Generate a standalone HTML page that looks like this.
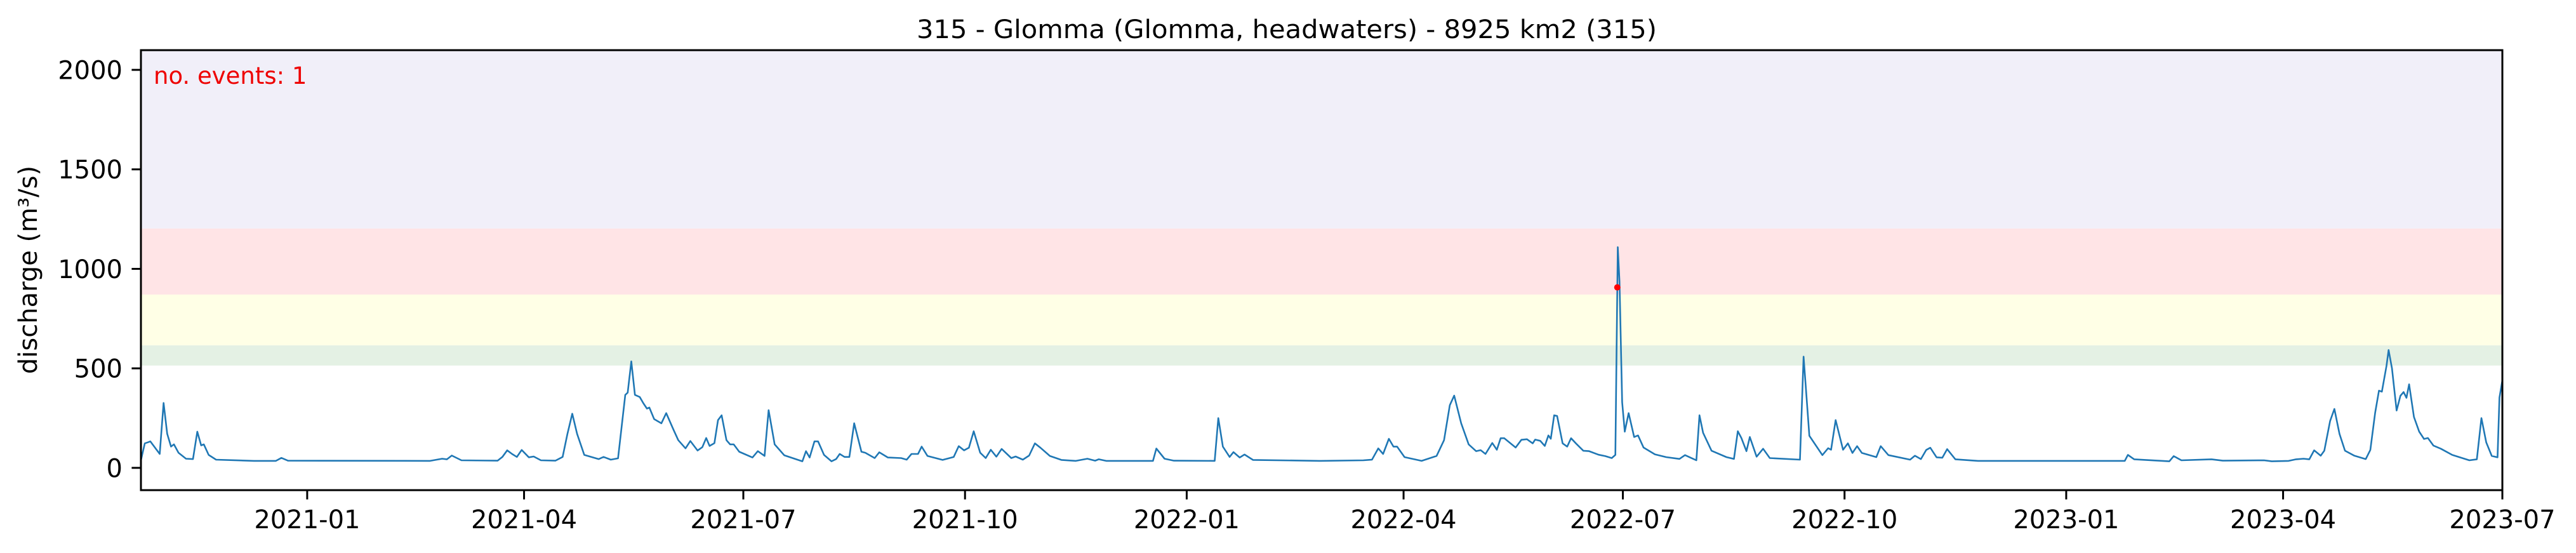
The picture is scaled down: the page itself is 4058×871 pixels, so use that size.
<!DOCTYPE html>
<html><head><meta charset="utf-8"><style>
html,body{margin:0;padding:0;background:#fff;}
svg{display:block;font-family:"DejaVu Sans","Liberation Sans",sans-serif;}
</style></head><body>
<svg id="chart" width="4058" height="871" viewBox="0 0 4058 871" xmlns="http://www.w3.org/2000/svg">
<g id="bands"></g>
<g id="series"></g>
<rect x="222" y="79" width="3720" height="693" fill="none" stroke="#000" stroke-width="3"/>
<g id="yticks"></g>
<g id="xticks"></g>
<text x="2027" y="60" font-size="40" text-anchor="middle" textLength="1166" lengthAdjust="spacingAndGlyphs">315 - Glomma (Glomma, headwaters) - 8925 km2 (315)</text>
<text transform="translate(58,425) rotate(-90)" font-size="40" text-anchor="middle">discharge (m³/s)</text>
<text x="242" y="132" font-size="37" fill="#ee0000">no. events: 1</text>
</svg>
<script>
const startDate = "2020-10-24";
const endDate = "2023-07-01";
const yTicks = [0, 500, 1000, 1500, 2000];
const xTickLabels = ["2021-01","2021-04","2021-07","2021-10","2022-01","2022-04","2022-07","2022-10","2023-01","2023-04","2023-07"];
const bandLows = [514, 616, 871, 1203];
const bandHighs = [616, 871, 1203, 2100];
const bandColors = ["#e4f1e4", "#ffffe6", "#ffe4e6", "#f1eff9"];
const flowDays = [0,1.6,2.8,3.9,7.8,9.4,10.9,12.5,13.7,15.6,18.7,21.6,23.4,25,26.1,28.1,31.2,46.9,56,58.3,61,120,125,127,129,133,148,150,152,154,156,158,161,163,166,172,175,177,179,181,184,190,192,195,198,201,202,203.5,205,207,208.5,210,211,213,216,218,221,223,226,228,231,233,234.6,236,238,239.5,241,243,244.5,
246,248.3,253.8,256,258.8,260.5,263,267,274.5,276,277.5,279.5,281,283.5,286.6,288.5,290,292,294,296,299,300.6,304.5,306.4,310,315.5,317.8,319.8,322.5,324,326.4,332.7,337.3,339.4,341.6,343.6,345.6,348.3,350.6,352.7,355,357.2,361.2,363,366,368.6,371,373.3,377.2,382,388,392.8,396,397.5,400.6,420,421.4,424.8,428.7,445.6,447.1,449,451.8,453.4,456,458,461.5,489.3,
507.3,510.9,513.5,515.5,517.9,519.8,521.3,524.4,531.5,537.7,540.8,543.2,545,547.9,551,554.1,556,558,560.8,562.7,564.3,565.8,570.5,572.9,575.2,577.6,578.6,580.7,582.6,584.1,585.1,586.5,587.7,590,591.9,593.5,595.5,598.6,601,604.9,607.7,610.4,611.9,612.9,613.6,614.7,615.8,617.4,619.7,621.3,623.6,628.3,633,638.5,640.8,645.5,646.8,648.3,651.8,658,661.1,662.7,664.2,666.3,667.7,670.5,673.2,676,688.5,690,692.4,697.8,700.2,701.4,703.3,706.4,708.4,710.3,712.2,714.2,720.2,722,725.2,734.2,
736.2,738.7,740.9,742.6,745.2,747.6,749.6,753,762.4,807,823.3,824.6,827.2,841.8,843.6,846.8,859.3,864,881.1,884.3,891.3,894.4,897.5,899.9,901.9,904.6,906.1,908.5,910.3,912.4,914.7,918.6,923.3,925.2,927.2,928.8,930,931.9,932.8,934.2,936.1,937.7,939,940.2,941.3,943.3,945.5,947.5,949.1,951.4,954.5,959.2,966.3,969.4,971.3,973.3,975.6,978,978.8,980];
const flowValues = [38,123,128,133,70,326,171,107,118,76,46,44,182,113,118,65,41,35,35,50,36,35,46,43,62,38,36,55,88,70,55,90,53,57,38,36,55,171,272,171,65,44,55,41,48,367,378,535,367,356,325,298,303,245,224,275,192,139,98,135,87,104,150,110,124,240,264,139,118,
118,81,52,84,60,290,118,63,33,84,52,133,133,65,33,44,70,55,55,224,81,76,49,78,52,49,41,70,70,107,60,40,55,109,88,101,184,76,49,91,56,95,49,57,41,62,123,101,60,40,35,46,36,43,35,35,97,46,36,35,250,107,55,79,52,67,40,35,
38,41,98,70,146,107,107,54,35,60,139,315,363,224,118,84,89,70,125,91,149,149,102,141,144,123,142,136,110,163,146,264,261,123,107,149,123,86,84,66,59,49,65,1109,937,330,182,275,155,163,102,68,54,45,64,38,264,176,86,54,45,184,150,84,155,56,96,49,41,559,161,64,99,91,240,91,123,75,109,75,54,109,64,41,
61,44,90,101,53,51,94,43,35,35,35,65,43,33,59,38,43,36,38,33,35,43,46,43,88,61,86,235,296,171,86,61,44,90,277,388,383,511,592,500,288,362,381,352,420,256,182,145,150,112,96,65,38,43,250,128,60,53,353,440];
const eventDays = [612.7];
const eventValues = [907];

const NS = "http://www.w3.org/2000/svg";
const L = 222, R = 3942, T = 79, B = 772;
const DAY = 86400000;
const t0 = Date.parse(startDate + "T00:00:00Z");
const totalDays = (Date.parse(endDate + "T00:00:00Z") - t0) / DAY;
const yMin = -112, yMax = 2099;
function xScale(d) { return L + (d / totalDays) * (R - L); }
function yScale(v) { return B - (v - yMin) / (yMax - yMin) * (B - T); }
function mk(tag, attrs, parent) {
  const e = document.createElementNS(NS, tag);
  for (const k in attrs) e.setAttribute(k, attrs[k]);
  parent.appendChild(e);
  return e;
}
const bands = document.getElementById("bands");
for (let i = 0; i < bandLows.length; i++) {
  const top = Math.max(yScale(bandHighs[i]), T);
  const r = mk("rect", {x: L, y: top, width: R - L, height: yScale(bandLows[i]) - top, fill: bandColors[i]}, bands);
  
  
}
const series = document.getElementById("series");
let d = "";
for (let i = 0; i < flowDays.length; i++) {
  d += (i ? "L" : "M") + xScale(flowDays[i]).toFixed(1) + " " + yScale(flowValues[i]).toFixed(1);
}
const line = mk("path", {d: d, fill: "none", stroke: "#1f77b4", "stroke-width": 2.6, "stroke-linejoin": "round"}, series);


for (let i = 0; i < eventDays.length; i++) {
  const c = mk("circle", {cx: xScale(eventDays[i]), cy: yScale(eventValues[i]), r: 5, fill: "#ff0000"}, series);
  
  
}
const yt = document.getElementById("yticks");
for (const v of yTicks) {
  const y = yScale(v);
  const tk = mk("line", {x1: L - 14.6, x2: L, y1: y, y2: y, stroke: "#000", "stroke-width": 3}, yt);
  
  
  const tx = mk("text", {x: L - 29, y: y + 14.5, "font-size": 40, "text-anchor": "end"}, yt);
  tx.textContent = String(v);
  
  
}
const xt = document.getElementById("xticks");
for (const lab of xTickLabels) {
  const dd = (Date.parse(lab + "-01T00:00:00Z") - t0) / DAY;
  const x = xScale(dd);
  const tk = mk("line", {x1: x, x2: x, y1: B, y2: B + 14.6, stroke: "#000", "stroke-width": 3}, xt);
  
  
  const tx = mk("text", {x: x, y: B + 60, "font-size": 40, "text-anchor": "middle"}, xt);
  tx.textContent = lab;
  
  
}
</script>
</body></html>
